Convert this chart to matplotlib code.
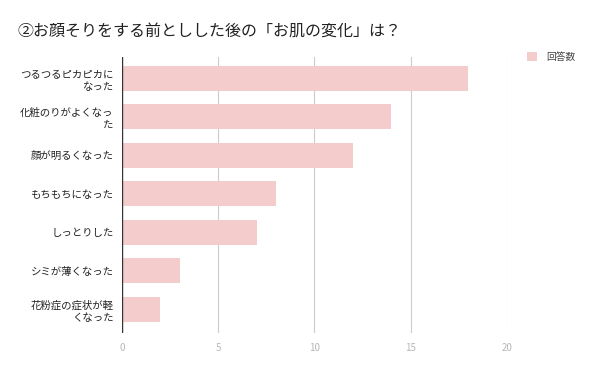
import matplotlib
matplotlib.use('Agg')
from matplotlib import pyplot as plt

plt.rcParams['font.family'] = ['Noto Sans CJK JP', 'DejaVu Sans']

# データ
categories = ['つるつるピカピカに\nなった', '化粧のりがよくなっ\nた', '顔が明るくなった',
              'もちもちになった', 'しっとりした', 'シミが薄くなった', '花粉症の症状が軽\nくなった']
counts = [18, 14, 12, 8, 7, 3, 2]
xticks = [0, 5, 10, 15, 20]
title = '②お顔そりをする前としした後の「お肌の変化」は？'
legend_label = '回答数'

fig = plt.figure(figsize=(6, 3.71), dpi=100, facecolor='white')
ax = fig.add_axes([0.203, 0.102, 0.642, 0.744])

ax.barh(range(len(counts)), counts, height=0.65, color='#f4cccc', label=legend_label, zorder=2)
ax.set_ylim(6.62, -0.545)
ax.set_xlim(0, 20)
ax.set_xticks(xticks)
ax.set_xticklabels([str(t) for t in xticks], color='#b7b7b7', fontsize=7)
ax.set_yticks(range(len(categories)))
ax.set_yticklabels(categories, fontsize=7.5, color='#222222', linespacing=1.3)
ax.tick_params(axis='y', length=0, pad=6)
ax.tick_params(axis='x', length=0, pad=7)
for s in ax.spines.values():
    s.set_visible(False)
ax.grid(axis='x', color='#cccccc', linewidth=0.8, zorder=0)
ax.axvline(0, color='#333333', linewidth=1, zorder=3)

fig.text(0.03, 0.917, title, fontsize=11.5, color='#222222', va='center')
ax.legend(loc='upper left', bbox_to_anchor=(1.03, 1.05), frameon=False, fontsize=7,
          handlelength=1.0, handleheight=1.0, handletextpad=0.9, labelcolor='#444444')

plt.savefig('out.png', dpi=100, facecolor='white')
